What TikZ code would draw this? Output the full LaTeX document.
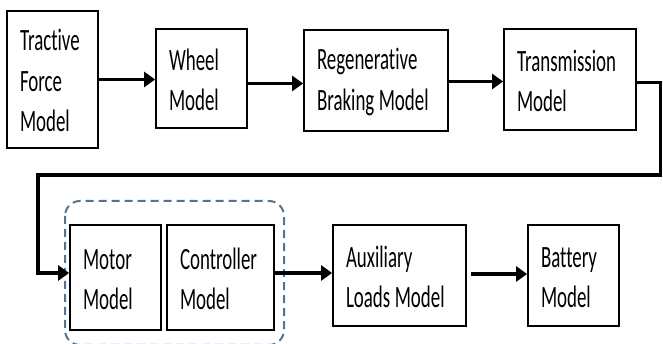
\documentclass[tikz,border=0pt]{standalone}
\usepackage{fontspec}
\setmainfont{Carlito}[FakeStretch=0.61, Ligatures=CommonOff]
\usetikzlibrary{arrows.meta}
\definecolor{dashblue}{RGB}{85,115,140}
\newcommand{\up}{\rule{0pt}{24pt}}
\newcommand{\ws}{\spaceskip=4.5pt\relax}
\begin{document}
\begin{tikzpicture}[x=1pt,y=1pt,
  box/.style={draw, line width=1.8pt, align=left, inner xsep=13pt, inner ysep=0pt,
    font=\fontsize{31}{40.5}\selectfont},
  arr/.style={line width=3.5pt, -{Triangle[length=11pt,width=15pt]}},
  groupbox/.style={draw=dashblue, line width=2pt, dash pattern=on 8pt off 5pt, rounded corners=15pt}
]
\useasboundingbox (0,0) rectangle (663,344);
\draw[groupbox] (65,143) rectangle (284,-1);
\node[box, minimum width=91pt, minimum height=137pt, text width=65pt] (tf) at (52.5,264.5) {\up Tractive\\Force\\Model};
\node[box, minimum width=91pt, minimum height=99pt, text width=65pt] (wh) at (201.5,265.5) {\up Wheel\\Model};
\node[box, minimum width=144pt, minimum height=101pt, text width=118pt] (rb) at (376,263.5) {\ws\up Regenerative\\Braking Model};
\node[box, minimum width=132pt, minimum height=101pt, text width=106pt] (tr) at (570,264.5) {\up Transmission\\Model};
\node[box, minimum width=91pt, minimum height=105pt, text width=65pt] (mo) at (115.5,66.5) {\up Motor\\Model};
\node[box, minimum width=107pt, minimum height=105pt, text width=81pt] (co) at (220.5,66.5) {\up Controller\\Model};
\node[box, minimum width=133pt, minimum height=101pt, text width=107pt] (au) at (399.5,68.5) {\ws\up Auxiliary\\Loads Model};
\node[box, minimum width=91pt, minimum height=101pt, text width=65pt] (ba) at (573.5,68.5) {\up Battery\\Model};
\coordinate (c1) at (660.5,169);
\coordinate (c2) at (38,169);
\draw[arr] (tf.east) -- (tf.east -| wh.west);
\draw[arr] ([yshift=-5pt]wh.east) -- ([yshift=-5pt]wh.east -| rb.west);
\draw[arr] ([yshift=-1pt]rb.east) -- ([yshift=-1pt]rb.east -| tr.west);
\draw[arr] ([yshift=-3pt]tr.east) -| (c1) -- (c2) |- ([yshift=4.5pt]mo.west);
\draw[arr] ([yshift=4.5pt]co.east) -- ([yshift=4.5pt]co.east -| au.west);
\draw[arr] ([xshift=4pt,yshift=1.5pt]au.east) -- ([yshift=1.5pt]au.east -| ba.west);
\end{tikzpicture}
\end{document}
